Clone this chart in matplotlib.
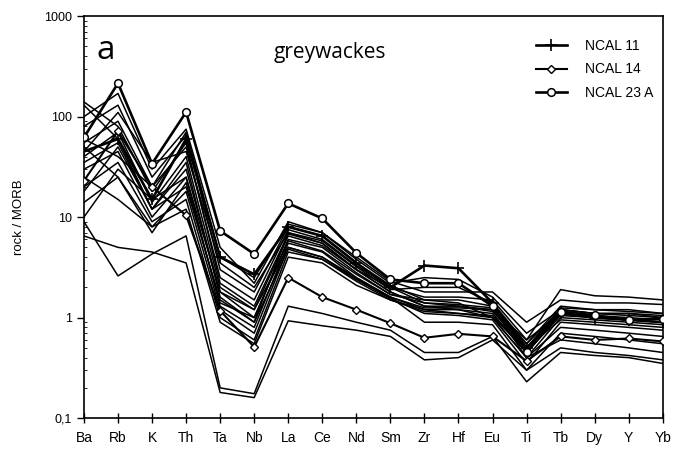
import matplotlib
matplotlib.use("Agg")
import matplotlib.pyplot as plt
from matplotlib.ticker import LogLocator, FixedLocator, NullFormatter

plt.rcParams['font.family'] = ['Liberation Sans', 'DejaVu Sans']

elements = ['Ba', 'Rb', 'K', 'Th', 'Ta', 'Nb', 'La', 'Ce', 'Nd', 'Sm',
            'Zr', 'Hf', 'Eu', 'Ti', 'Tb', 'Dy', 'Y', 'Yb']

ncal_11 = [45, 60, 15, 60, 4.0, 2.7, 8.0, 6.5, 3.5, 2.0, 3.3, 3.1, 1.4, 0.5, 1.1, 1.0, 0.95, 0.9]
ncal_14 = [23, 72, 20, 10.4, 1.17, 0.51, 2.5, 1.6, 1.2, 0.88, 0.63, 0.69, 0.65, 0.37, 0.65, 0.6, 0.62, 0.58]
ncal_23a = [62, 215, 34, 111, 7.3, 4.3, 13.7, 9.7, 4.4, 2.4, 2.2, 2.2, 1.3, 0.45, 1.15, 1.05, 0.95, 0.98]

other_1 = [130, 60, 12, 20, 1.5, 0.9, 7, 5.5, 3, 2, 1.6, 1.6, 1.5, 0.6, 1.9, 1.65, 1.6, 1.5]
other_2 = [100, 170, 30, 75, 5, 2.2, 9, 7, 4, 2.3, 1.8, 1.8, 1.8, 0.9, 1.5, 1.4, 1.4, 1.35]
other_3 = [80, 130, 25, 65, 3, 1.8, 8, 6.5, 3.5, 2.1, 1.5, 1.5, 1.3, 0.5, 1.2, 1.1, 1.1, 1.05]
other_4 = [55, 90, 20, 50, 2.5, 1.5, 7.5, 6, 3.3, 2.0, 1.4, 1.3, 1.2, 0.6, 1.1, 1.05, 1.0, 0.95]
other_5 = [40, 70, 14, 40, 2, 1.2, 6.5, 5.2, 3.0, 1.8, 1.3, 1.2, 1.1, 0.45, 1.05, 1.0, 0.95, 0.9]
other_6 = [35, 55, 12, 30, 1.8, 1.0, 6, 5, 2.8, 1.7, 1.5, 1.4, 1.0, 0.4, 1.0, 0.95, 0.9, 0.85]
other_7 = [30, 45, 10, 25, 1.3, 0.8, 5.5, 4.5, 2.5, 1.6, 1.2, 1.1, 1.05, 0.45, 1.1, 1.0, 0.95, 0.9]
other_8 = [20, 35, 9, 15, 1.0, 0.6, 4.5, 3.8, 2.3, 1.5, 1.15, 1.1, 1.0, 0.5, 0.95, 0.9, 0.85, 0.8]
other_9 = [14, 25, 8, 12, 0.9, 0.55, 4, 3.5, 2.1, 1.5, 1.2, 1.2, 1.0, 0.4, 0.8, 0.75, 0.7, 0.65]
other_10 = [10, 30, 15, 25, 1.8, 1.2, 5, 4, 2.5, 1.6, 1.25, 1.25, 1.2, 0.55, 1.2, 1.1, 1.1, 1.0]
other_11 = [9, 2.6, 4.3, 6.5, 0.2, 0.175, 1.3, 1.1, 0.9, 0.75, 0.45, 0.45, 0.65, 0.23, 0.45, 0.42, 0.4, 0.35]
other_12 = [6.5, 5, 4.5, 3.5, 0.18, 0.16, 0.93, 0.83, 0.75, 0.65, 0.38, 0.4, 0.6, 0.3, 0.5, 0.45, 0.42, 0.38]
other_13 = [60, 40, 20, 70, 4, 2.5, 8.5, 7, 3.8, 2.2, 2.5, 2.4, 1.6, 0.7, 1.2, 1.1, 1.05, 1.0]
other_14 = [45, 110, 35, 45, 3.5, 2, 7, 5.8, 3.2, 1.9, 2.0, 2.0, 1.4, 0.55, 1.3, 1.2, 1.2, 1.1]
other_15 = [25, 15, 8, 18, 1.2, 0.7, 5, 4, 2.4, 1.55, 1.1, 1.05, 0.95, 0.35, 0.9, 0.85, 0.8, 0.75]
other_16 = [140, 80, 18, 55, 2.2, 1.3, 6.8, 5.5, 3.0, 1.8, 1.3, 1.3, 1.15, 0.5, 1.25, 1.2, 1.15, 1.1]
other_17 = [18, 50, 12, 35, 1.6, 0.9, 4.8, 3.8, 2.4, 1.6, 0.9, 0.9, 0.85, 0.3, 0.7, 0.65, 0.6, 0.55]
other_18 = [50, 25, 7, 22, 1.4, 1.0, 5.8, 4.6, 2.7, 1.7, 1.4, 1.35, 1.25, 0.4, 0.6, 0.55, 0.5, 0.45]

others = [other_1, other_2, other_3, other_4, other_5, other_6, other_7, other_8, other_9,
          other_10, other_11, other_12, other_13, other_14, other_15, other_16, other_17, other_18]

y_ticks = [0.1, 1, 10, 100, 1000]
y_ticklabels = ['0,1', '1', '10', '100', '1000']

fig = plt.figure(figsize=(6.77, 4.61), dpi=100)
ax = fig.add_axes([0.124, 0.093, 0.855, 0.872])

x = list(range(len(elements)))
for s in others:
    ax.plot(x, s, color='black', lw=1.1, zorder=2)

ax.plot(x, ncal_11, color='black', lw=1.9, marker='+', ms=8, mew=1.2, label='NCAL 11', zorder=4)
ax.plot(x, ncal_14, color='black', lw=1.5, marker='D', ms=4.5, mfc='white', mec='black', mew=1.0,
        label='NCAL 14', zorder=4)
ax.plot(x, ncal_23a, color='black', lw=1.9, marker='o', ms=5.5, mfc='white', mec='black', mew=1.1,
        label='NCAL 23 A', zorder=4)

ax.set_yscale('log')
ax.set_ylim(0.1, 1000)
ax.set_xlim(0, len(elements) - 1)
ax.set_xticks(x)
ax.set_xticklabels(elements, fontsize=10)
ax.yaxis.set_major_locator(FixedLocator(y_ticks))
ax.set_yticklabels(y_ticklabels, fontsize=9)
ax.yaxis.set_minor_locator(LogLocator(base=10, subs=range(2, 10)))
ax.yaxis.set_minor_formatter(NullFormatter())
ax.tick_params(axis='x', direction='inout', length=7, width=1, pad=6)
ax.tick_params(axis='y', which='major', direction='out', length=5, width=1)
ax.tick_params(axis='y', which='minor', direction='in', length=2, width=0.6)
for sp in ax.spines.values():
    sp.set_linewidth(1.2)

ax.set_ylabel('rock / MORB', fontsize=9.5, labelpad=14)

ax.text(0.022, 0.955, 'a', transform=ax.transAxes, fontsize=24, family=['Open Sans', 'DejaVu Sans'],
        va='top', ha='left')
ax.text(0.425, 0.935, 'greywackes', transform=ax.transAxes, fontsize=15,
        family=['Open Sans', 'DejaVu Sans'], va='top', ha='center')

leg = ax.legend(loc='upper right', bbox_to_anchor=(1.005, 0.975), frameon=False, fontsize=10,
                handlelength=2.2, labelspacing=0.7, handletextpad=1.3)

fig.savefig('out.png', dpi=100)
